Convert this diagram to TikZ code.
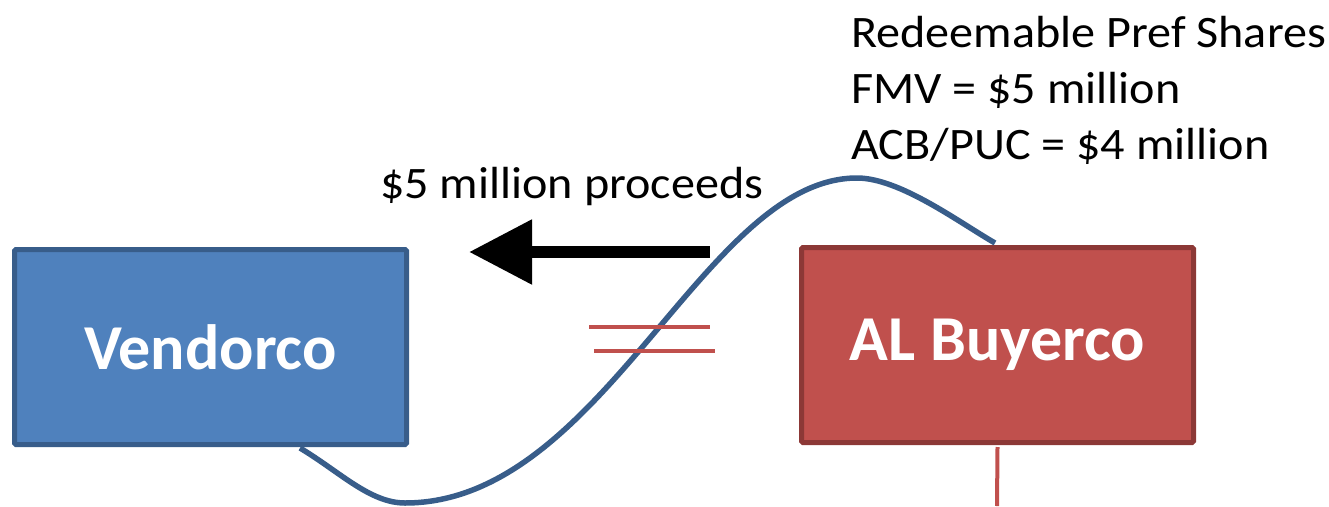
\documentclass[tikz,border=0pt]{standalone}
\usepackage{fontspec}
\setmainfont{Carlito}
\usetikzlibrary{arrows.meta}
\definecolor{bfill}{HTML}{4F81BD}
\definecolor{bdraw}{HTML}{385D8A}
\definecolor{rfill}{HTML}{C0504D}
\definecolor{rdraw}{HTML}{8C3836}
\newcommand{\wtext}[1]{\scalebox{1.07}[1]{#1}}
\tikzset{
  company/.style={draw, line width=5pt, rounded corners=1.5pt, minimum width=392pt, minimum height=195pt, inner sep=0pt, text=white, font=\fontsize{64}{76}\selectfont\bfseries},
  label/.style={inner sep=0pt, anchor=base west, font=\fontsize{45}{56}\selectfont},
  rline/.style={draw=rfill, line width=4.5pt},
  link/.style={draw=bdraw, line width=5.5pt},
  bigarrow/.style={line width=12pt, -{Triangle[length=63pt,width=62pt]}}
}
\begin{document}
\begin{tikzpicture}[x=1pt,y=-1pt]
\useasboundingbox (0,0) rectangle (1329,506);
\node[company, fill=bfill, draw=bdraw] (vend) at (210.5,347) {Vendorco};
\node[company, fill=rfill, draw=rdraw] (buy) at (997.5,345) {AL Buyerco};
\node[label] (proc) at (380,198) {\wtext{\$5 million proceeds}};
\node[label] (t1) at (851,47) {\wtext{Redeemable Pref Shares}};
\node[label] (t2) at (851,103) {\wtext{FMV = \$5 million}};
\node[label] (t3) at (851,159) {\wtext{ACB/PUC = \$4 million}};
\coordinate (cs) at (300,448);
\coordinate (cm) at (405,503);
\coordinate (cp) at (857,178);
\coordinate (ce) at (995,243);
\draw[link] (cs) .. controls (340,472) and (370,503) .. (cm)
  .. controls (603,503) and (704,178) .. (cp)
  .. controls (900,178) and (960,223) .. (ce);
\coordinate (a1) at (710,252);
\coordinate (a2) at (469,252);
\draw[bigarrow] (a1) -- (a2);
\coordinate (d1) at (589,327);
\coordinate (d2) at (710,327);
\coordinate (d3) at (594,351);
\coordinate (d4) at (715,351);
\draw[rline] (d1) -- (d2);
\draw[rline] (d3) -- (d4);
\coordinate (vb) at (997,506);
\draw[draw=rfill, line width=4pt] (buy.south) ++(0,2) coordinate (vt) (vt) -- (vb);
\end{tikzpicture}
\end{document}
